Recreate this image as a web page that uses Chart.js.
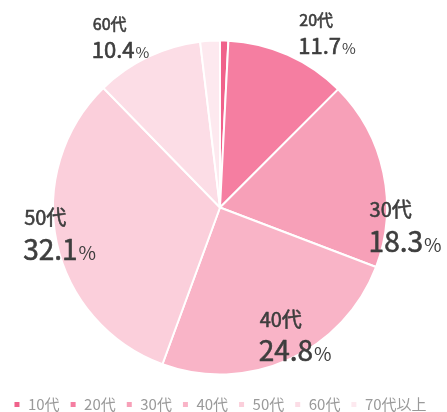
<!DOCTYPE html>
<html lang="ja">
<head>
<meta charset="utf-8">
<title>年代別構成比</title>
<script src="https://cdn.jsdelivr.net/npm/chart.js@4"></script>
<style>
  html, body { margin: 0; padding: 0; background: #fff; }
  #wrap { width: 447px; height: 412px; position: relative; }
</style>
</head>
<body>
<div id="wrap"><canvas id="pie"></canvas></div>
<script>
(function () {
  'use strict';

  var AGE_GROUPS = ['10代', '20代', '30代', '40代', '50代', '60代', '70代以上'];
  var SHARES = [0.8, 11.7, 18.3, 24.8, 32.1, 10.4, 1.9];
  var SLICE_COLORS = ['#f0628b', '#f57ea1', '#f7a0b8', '#f9b4c7', '#fbcfdb', '#fcdde6', '#fde9ef'];

  // label placement: polar angle (deg from top, clockwise) and distance as share of radius
  var LABEL_ANGLE = [null, 31.7, 95.9, 149.8, 260.1, 329.6, null];
  var LABEL_DIST = [null, 1.22, 1.114, 0.894, 0.975, 1.177, null];

  var FONT = "'Noto Sans CJK JP', 'Noto Sans', sans-serif";

  // fill plus a thin stroke gives a medium weight
  function heavyText(ctx, text, x, y) {
    ctx.fillText(text, x, y);
    ctx.strokeText(text, x, y);
  }

  var sliceLabels = {
    id: 'sliceLabels',
    afterDatasetsDraw: function (chart) {
      var ctx = chart.ctx;
      var arc = chart.getDatasetMeta(0).data[0];
      var cx = arc.x, cy = arc.y, r = arc.outerRadius;
      ctx.save();
      ctx.fillStyle = '#3e3e3e';
      ctx.strokeStyle = '#3e3e3e';
      ctx.lineWidth = 0.6;
      ctx.lineJoin = 'round';
      ctx.textBaseline = 'alphabetic';
      ctx.textAlign = 'left';
      SHARES.forEach(function (v, i) {
        if (LABEL_ANGLE[i] === null) return;
        var big = v > 15;
        var nameSize = big ? 20 : 16;
        var numSize = big ? 28 : 22;
        var pctSize = big ? 19 : 15;
        var a = LABEL_ANGLE[i] * Math.PI / 180;
        var ax = cx + Math.sin(a) * r * LABEL_DIST[i];
        var ay = cy - Math.cos(a) * r * LABEL_DIST[i];
        var num = v.toFixed(1);
        ctx.font = numSize + 'px ' + FONT;
        var numW = ctx.measureText(num).width;
        ctx.font = pctSize + 'px ' + FONT;
        var pctW = ctx.measureText('%').width;
        var left = ax - (numW + 1 + pctW) / 2;
        ctx.font = nameSize + 'px ' + FONT;
        heavyText(ctx, AGE_GROUPS[i], left + 1, ay - nameSize * 0.5);
        ctx.font = numSize + 'px ' + FONT;
        heavyText(ctx, num, left, ay + numSize * 0.89);
        ctx.font = pctSize + 'px ' + FONT;
        ctx.fillText('%', left + numW + 1, ay + numSize * 0.89);
      });
      ctx.restore();
    }
  };

  new Chart(document.getElementById('pie'), {
    type: 'pie',
    data: {
      labels: AGE_GROUPS,
      datasets: [{
        data: SHARES,
        backgroundColor: SLICE_COLORS,
        borderColor: '#ffffff',
        borderWidth: 2,
        radius: 167
      }]
    },
    options: {
      responsive: true,
      maintainAspectRatio: false,
      animation: false,
      layout: { padding: { top: 28, left: 0, right: 7, bottom: -10 } },
      plugins: {
        tooltip: { enabled: false },
        legend: {
          position: 'bottom',
          labels: {
            boxWidth: 7,
            boxHeight: 7,
            padding: 10,
            color: '#9a9a9a',
            font: { family: FONT, size: 15 }
          }
        }
      }
    },
    plugins: [sliceLabels]
  });
})();
</script>
</body>
</html>
